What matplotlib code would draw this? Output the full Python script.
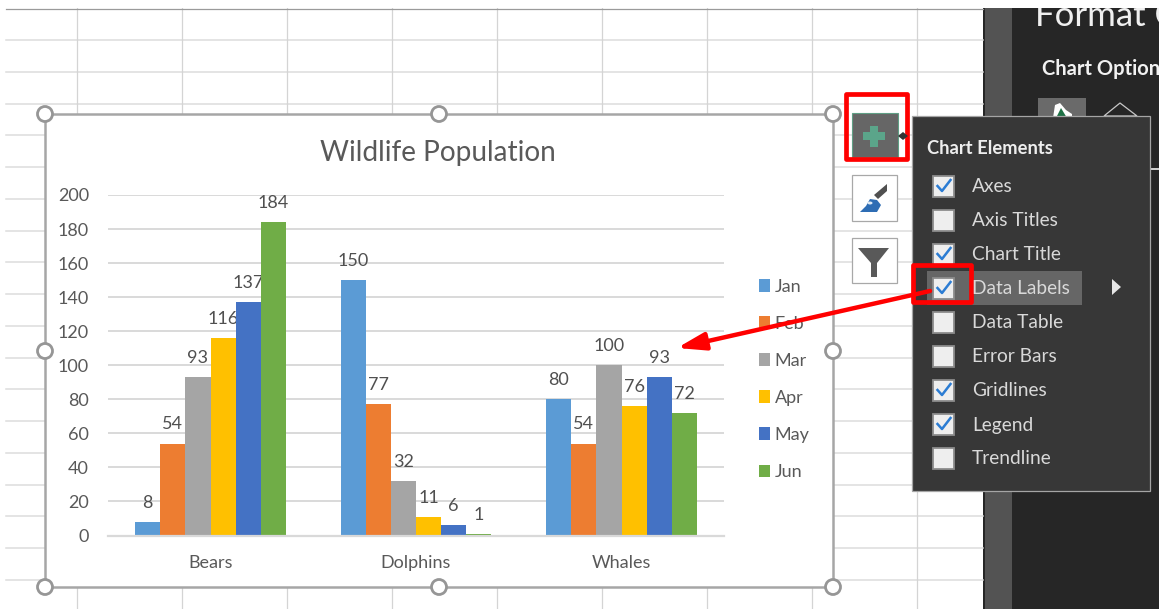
import numpy as np
import matplotlib.pyplot as plt
from matplotlib.patches import Rectangle, Circle, Polygon, Ellipse

plt.rcParams['font.family'] = ['Lato', 'DejaVu Sans']

W, H = 1159, 609

categories = ['Bears', 'Dolphins', 'Whales']
months = ['Jan', 'Feb', 'Mar', 'Apr', 'May', 'Jun']
jan = [8, 150, 80]
feb = [54, 77, 54]
mar = [93, 32, 100]
apr = [116, 11, 76]
may = [137, 6, 93]
jun = [184, 1, 72]
series = [jan, feb, mar, apr, may, jun]
colors = ['#5B9BD5', '#ED7D31', '#A5A5A5', '#FFC000', '#4472C4', '#70AD47']
y_ticks = list(range(0, 201, 20))

menu_items = ['Axes', 'Axis Titles', 'Chart Title', 'Data Labels', 'Data Table',
              'Error Bars', 'Gridlines', 'Legend', 'Trendline']
menu_checked = [True, False, True, True, False, False, True, True, False]

text_grey = '#595959'

fig = plt.figure(figsize=(W / 100, H / 100), dpi=100, facecolor='white')


def pixel_axes(z):
    a = fig.add_axes([0, 0, 1, 1], zorder=z)
    a.set_xlim(0, W)
    a.set_ylim(H, 0)
    a.axis('off')
    a.patch.set_alpha(0)
    return a


# worksheet and side pane behind the chart
back = pixel_axes(0)
for y in 40 + 31.75 * np.arange(18):
    back.plot([6, 983], [y, y], color='#dcdcdc', lw=1.1)
for x in 76.5 + 105 * np.arange(9):
    back.plot([x, x], [8, H], color='#d4d4d4', lw=0.9)
back.plot([6, 983], [8.5, 8.5], color='#9a9a9a', lw=0.9)

back.add_patch(Rectangle((983, 8), W - 983, H - 8, fc='#262626', ec='none'))
back.add_patch(Rectangle((985, 8), 27, H - 8, fc='#535353', ec='none'))
back.text(1035, 26, 'Format Chart Area', color='#f0f0f0', fontsize=25, va='baseline', clip_on=True)
back.text(1042, 69, 'Chart Options', color='#f2f2f2', fontsize=14.5, fontweight='bold', va='center', clip_on=True)
back.add_patch(Rectangle((1038, 98), 48, 20, fc='#6a6a6a', ec='none'))
back.add_patch(Polygon([(1053, 118), (1055, 105), (1060, 103), (1066, 110), (1072, 114), (1072, 118)],
                       fc='white', ec='none'))
back.add_patch(Polygon([(1056, 118), (1061, 108), (1067, 118)], fc='#1e7145', ec='none'))
back.add_patch(Polygon([(1104, 116), (1120, 103), (1137, 116)], fc='none', ec='#c8c8c8', lw=0.9))
back.plot([1150, W], [169, 169], color='#f0f0f0', lw=1.2)
back.add_patch(Rectangle((0, 0), W, 8, fc='white', ec='none', zorder=5))

# chart background and the selection frame
back.add_patch(Rectangle((45, 114), 788, 473, fc='white', ec='#a6a6a6', lw=1.8, zorder=3))

# clustered column chart
ax = fig.add_axes([107.75 / W, 1 - 535.5 / H, 616.5 / W, 340.5 / H], zorder=2)
ax.patch.set_alpha(0)
bar_w = 25.1 / 205.5
x_pos = np.arange(len(categories))
for i, (name, vals, col) in enumerate(zip(months, series, colors)):
    bars = ax.bar(x_pos + (i - 2.5) * bar_w, vals, bar_w, color=col, label=name, zorder=3)
    ax.bar_label(bars, labels=[str(v) for v in vals], padding=8, fontsize=13, color='#505050')

ax.set_xlim(-0.5, 2.5)
ax.set_ylim(0, 200)
ax.set_yticks(y_ticks)
ax.set_xticks(x_pos)
ax.set_xticklabels(categories)
ax.tick_params(axis='both', length=0, colors=text_grey, labelsize=13)
ax.tick_params(axis='y', pad=13.5)
ax.tick_params(axis='x', pad=14)
ax.grid(axis='y', color='#d9d9d9', lw=1.4, zorder=0)
ax.set_axisbelow(True)
for side in ['top', 'right', 'left']:
    ax.spines[side].set_visible(False)
ax.spines['bottom'].set_color('#d9d9d9')
ax.spines['bottom'].set_linewidth(1.6)
ax.spines['bottom'].set_zorder(5)

fig.text(438 / W, 1 - 153 / H, 'Wildlife Population', ha='center', va='center',
         fontsize=20.2, color=text_grey)

ax.legend(loc='center left', bbox_to_anchor=(743 / W, 1 - 379.5 / H), bbox_transform=fig.transFigure,
          frameon=False, fontsize=13, labelcolor=text_grey, handlelength=0.6, handleheight=0.72,
          handletextpad=0.25, labelspacing=1.17, borderpad=0.4)

# popup controls, handles and callouts above the chart
top = pixel_axes(4)
for hx, hy in [(45, 114), (439, 114), (833, 114), (45, 351), (833, 351), (45, 587), (439, 587), (833, 587)]:
    top.add_patch(Circle((hx, hy), 7.5, fc='white', ec='#969696', lw=2))

# plus button
top.add_patch(Rectangle((852, 113), 46, 44, fc='#666666', ec='#5f9f85', lw=0.8))
top.add_patch(Rectangle((863, 132), 22, 8, fc='#5ba58a', ec='none'))
top.add_patch(Rectangle((870, 126), 8, 21, fc='#5ba58a', ec='none'))
top.add_patch(Rectangle((846, 94), 61, 65, fc='none', ec='#ff0000', lw=3.4, joinstyle='round'))
top.add_patch(Polygon([(898, 136), (903, 132), (908, 136), (903, 140)], fc='#333333', ec='none'))

# brush button
top.add_patch(Rectangle((852, 175), 45, 46, fc='white', ec='#a8a8a8', lw=0.9))
top.add_patch(Polygon([(887, 184), (887, 191), (878, 199), (874, 195)], fc='#505050', ec='none'))
top.add_patch(Polygon([(860, 212), (866, 206), (870, 199), (877, 200), (881, 205), (877, 212)],
                      fc='#2e6db4', ec='none'))
top.add_patch(Ellipse((870, 203), 5, 3, fc='#dfeaf5', ec='none'))

# filter button
top.add_patch(Rectangle((852, 238), 45, 45, fc='white', ec='#a8a8a8', lw=0.9))
top.add_patch(Polygon([(858, 248), (889, 248), (877, 263), (877, 277), (871, 277), (871, 263)],
                      fc='#595959', ec='none'))

# chart elements menu
top.add_patch(Rectangle((912, 115.5), 238, 375.5, fc='#373737', ec='#a5a5a5', lw=0.9))
top.text(927, 149, 'Chart Elements', color='#eeeeee', fontsize=13.2, fontweight='bold', va='center')
top.add_patch(Rectangle((927, 271), 155, 34, fc='#666666', ec='none'))
top.add_patch(Polygon([(1112, 279), (1121, 287), (1112, 295)], fc='#e6e6e6', ec='none'))
for n, (item, on) in enumerate(zip(menu_items, menu_checked)):
    cy = 186 + 34 * n
    top.add_patch(Rectangle((933, cy - 10.5), 21, 21, fc='#eeeeee', ec='#8c8c8c', lw=1.3))
    if on:
        top.plot([937.5, 942, 950.5], [cy, cy + 5, cy - 6], color='#2b7cd3', lw=1.8)
    top.text(972, cy + 1, item, color='#d9d9d9', fontsize=13.8, va='center')

# red callout
top.add_patch(Rectangle((913, 265), 58, 37, fc='none', ec='#ff0000', lw=3.4, joinstyle='round'))
top.annotate('', xy=(677, 348), xytext=(930, 291),
             arrowprops=dict(arrowstyle='-|>,head_length=0.7,head_width=0.22', color='#ff0000', lw=3.2,
                             shrinkA=0, shrinkB=0, mutation_scale=24))

fig.savefig('out.png', dpi=100)
